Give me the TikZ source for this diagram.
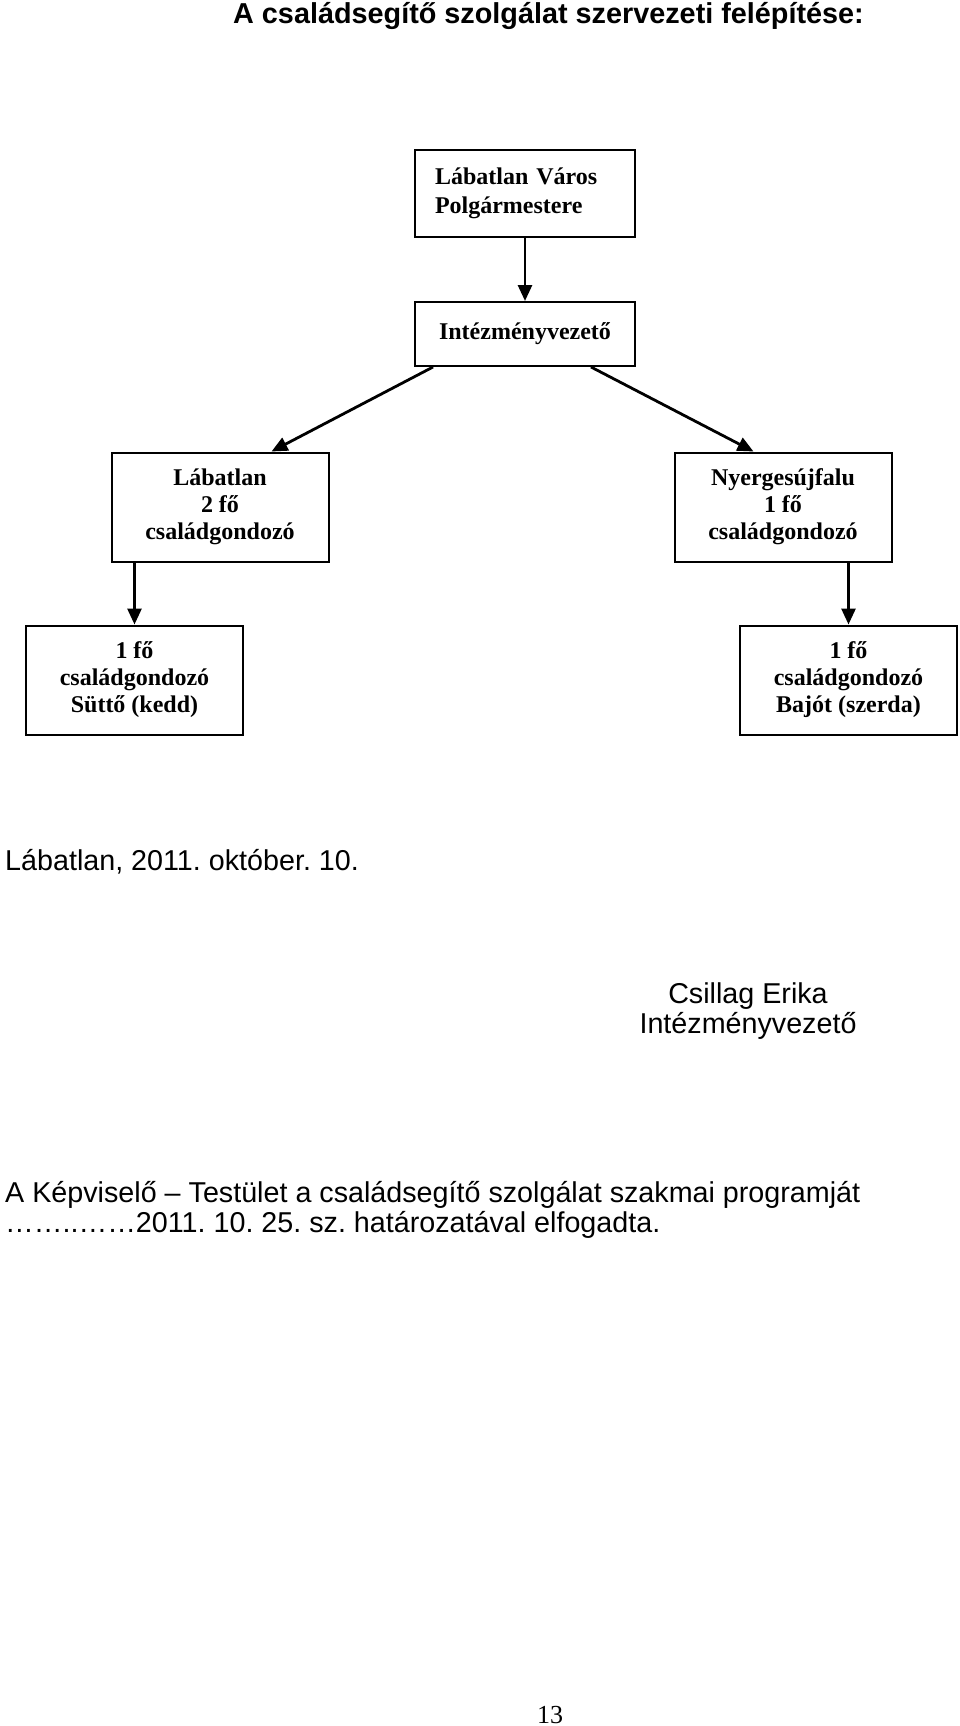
\documentclass[tikz,border=0pt]{standalone}
\usepackage{fontspec}
\setmainfont{Liberation Serif}
\newfontfamily\arialf{Liberation Sans}
\usetikzlibrary{arrows.meta}
\frenchspacing
\begin{document}
\begin{tikzpicture}[x=1pt,y=-1pt,
  orgbox/.style={draw, line width=2pt, minimum width=217pt, minimum height=109pt,
    inner sep=0pt, align=center, font=\fontsize{24}{27}\selectfont\bfseries},
  conn/.style={line width=2.8pt, -{Triangle[width=14pt,length=16pt]}},
  bodytext/.style={font=\arialf\fontsize{28.7}{30}\selectfont, inner sep=0pt}]
\useasboundingbox (0,0) rectangle (960,1726);
\fill[white] (0,0) rectangle (960,1726);

\node[anchor=base west, inner sep=0pt, font=\arialf\bfseries\fontsize{28.8}{32}\selectfont] (title) at (233,24) {A családsegítő szolgálat szervezeti felépítése:};

\node[draw, line width=2pt, minimum width=220pt, minimum height=87pt, text width=180pt,
  inner xsep=20pt, inner ysep=0pt, align=left, font=\fontsize{24}{29}\selectfont\bfseries]
  (b1) at (525,193.5) {Lábatlan Város\\Polgármestere};
\node[orgbox, minimum width=220pt, minimum height=64pt] (b2) at (525,334) {Intézményvezető};
\node[orgbox] (b3) at (220,507) {Lábatlan\\2 fő\\családgondozó};
\node[orgbox] (b4) at (783,507) {Nyergesújfalu\\1 fő\\családgondozó};
\node[orgbox] (b5) at (134.5,680) {1 fő\\családgondozó\\Süttő (kedd)};
\node[orgbox] (b6) at (848.5,680) {1 fő\\családgondozó\\Bajót (szerda)};

\draw[conn] (b1.south) -- (b2.north);
\draw[conn] ([xshift=19pt]b2.south west) -- ([xshift=161pt]b3.north west);
\draw[conn] ([xshift=-45pt]b2.south east) -- ([xshift=80pt]b4.north west);
\draw[conn] (b5.north |- b3.south) -- (b5.north);
\draw[conn] (b6.north |- b4.south) -- (b6.north);

\node[bodytext, anchor=base west] (date) at (5,870) {Lábatlan, 2011. október. 10.};
\node[bodytext, anchor=base] (name) at (748,1003) {Csillag Erika};
\node[bodytext, anchor=base] (role) at (748,1033) {Intézményvezető};
\node[bodytext, anchor=base west] (resol1) at (5,1202) {A Képviselő – Testület a családsegítő szolgálat szakmai programját};
\node[bodytext, anchor=base west] (resol2) at (5,1232) {……..……2011. 10. 25. sz. határozatával elfogadta.};
\node[anchor=base, inner sep=0pt, font=\fontsize{26}{30}\selectfont] (page) at (550,1723) {13};
\end{tikzpicture}
\end{document}
